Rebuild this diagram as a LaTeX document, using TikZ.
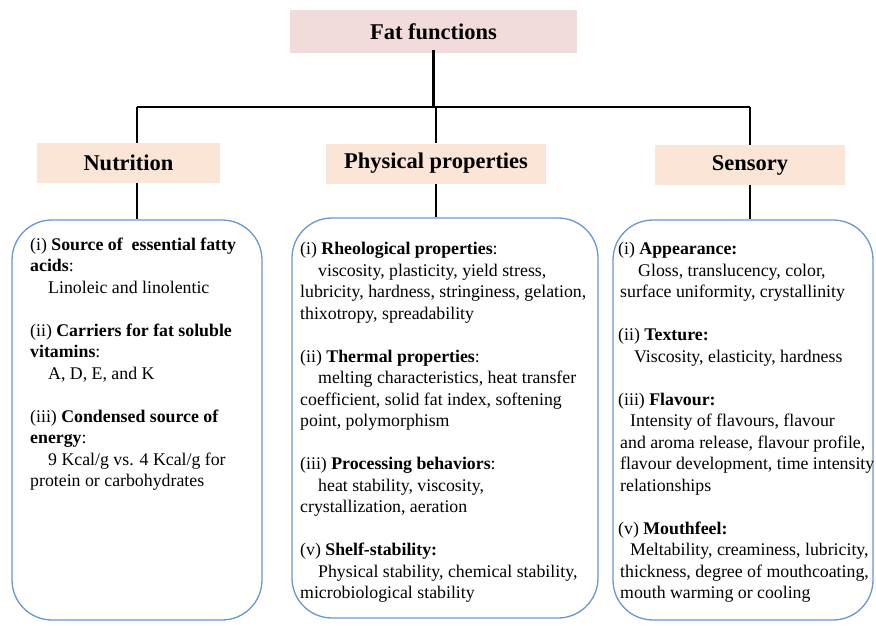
\documentclass[tikz,border=0pt]{standalone}
\usepackage{fontspec}
\setmainfont{Liberation Serif}
\definecolor{pinkfill}{HTML}{F2DCDB}
\definecolor{peachfill}{HTML}{FBE5D6}
\definecolor{panelblue}{HTML}{6A96D2}
\begin{document}
\begin{tikzpicture}[x=1pt,y=-1pt,
  topbox/.style={fill=pinkfill, minimum width=287pt, minimum height=43pt, inner sep=0pt, font=\fontsize{22.5}{26}\selectfont\bfseries},
  hdr/.style={fill=peachfill, minimum height=40pt, inner sep=0pt, font=\fontsize{22.5}{26}\selectfont\bfseries},
  panel/.style={draw=panelblue, line width=1.3pt, rounded corners=40pt, minimum height=400pt, inner sep=0pt},
  body/.style={anchor=north west, inner sep=0pt, align=left, font=\fontsize{17.8}{21.5}\selectfont},
  conn/.style={line width=2.7pt, black}]
\useasboundingbox (0,0) rectangle (876,626);
\fill[white] (0,0) rectangle (876,626);

% boxes
\node[topbox] (fat) at (433.5,31.5) {Fat functions};
\node[hdr, minimum width=183pt] (nut) at (128.5,163) {Nutrition};
\node[hdr, minimum width=220pt] (phys) at (436,163.5) {Physical properties};
\node[hdr, minimum width=190pt] (sens) at (750,165) {Sensory};

\node[panel, minimum width=250pt] (nb) at (137,420) {};
\node[panel, minimum width=306pt] (pb) at (445,418) {};
\node[panel, minimum width=260pt] (sb) at (743,420) {};

% connectors
\coordinate (bar) at (0,107);
\draw[conn] ([yshift=3pt]fat.south) -- (fat.south |- bar);
\draw[conn] (nb.north |- bar) -- (sens.north |- bar);
\draw[conn] (nb.north |- bar) -- (nut.north -| nb.north);
\draw[conn] (nut.south -| nb.north) -- (nb.north);
\draw[conn] (phys.north |- bar) -- (phys.north);
\draw[conn] (phys.south) -- (phys.south |- pb.north);
\draw[conn] (sens.north |- bar) -- (sens.north);
\draw[conn] (sens.south) -- (sens.south |- sb.north);

% texts
\node[body] (nt) at (30,237.5) {%
(i) \textbf{Source of\ \ essential fatty}\\
\textbf{acids}:\\
\hspace*{18pt}Linoleic and linolentic\\[21.5pt]
(ii) \textbf{Carriers for fat soluble}\\
\textbf{vitamins}:\\
\hspace*{18pt}A, D, E, and K\\[21.5pt]
(iii) \textbf{Condensed source of}\\
\textbf{energy}:\\
\hspace*{18pt}9 Kcal/g vs. 4 Kcal/g for\\
protein or carbohydrates};

\node[body] (pt) at (300,242) {%
(i) \textbf{Rheological properties}:\\
\hspace*{18pt}viscosity, plasticity, yield stress,\\
lubricity, hardness, stringiness, gelation,\\
thixotropy, spreadability\\[21.5pt]
(ii) \textbf{Thermal properties}:\\
\hspace*{18pt}melting characteristics, heat transfer\\
coefficient, solid fat index, softening\\
point, polymorphism\\[21.5pt]
(iii) \textbf{Processing behaviors}:\\
\hspace*{18pt}heat stability, viscosity,\\
crystallization, aeration\\[21.5pt]
(v) \textbf{Shelf-stability:}\\
\hspace*{18pt}Physical stability, chemical stability,\\
microbiological stability};

\node[body] (st) at (618,242) {%
(i) \textbf{Appearance:}\\
\hspace*{20pt}Gloss, translucency, color,\\
\hspace*{2pt}surface uniformity, crystallinity\\[21.5pt]
(ii) \textbf{Texture:}\\
\hspace*{16pt}Viscosity, elasticity, hardness\\[21.5pt]
(iii) \textbf{Flavour:}\\
\hspace*{12pt}Intensity of flavours, flavour\\
\hspace*{2pt}and aroma release, flavour profile,\\
\hspace*{2pt}flavour development, time intensity\\
\hspace*{2pt}relationships\\[21.5pt]
(v) \textbf{Mouthfeel:}\\
\hspace*{12pt}Meltability, creaminess, lubricity,\\
\hspace*{2pt}thickness, degree of mouthcoating,\\
\hspace*{2pt}mouth warming or cooling};
\end{tikzpicture}
\end{document}
